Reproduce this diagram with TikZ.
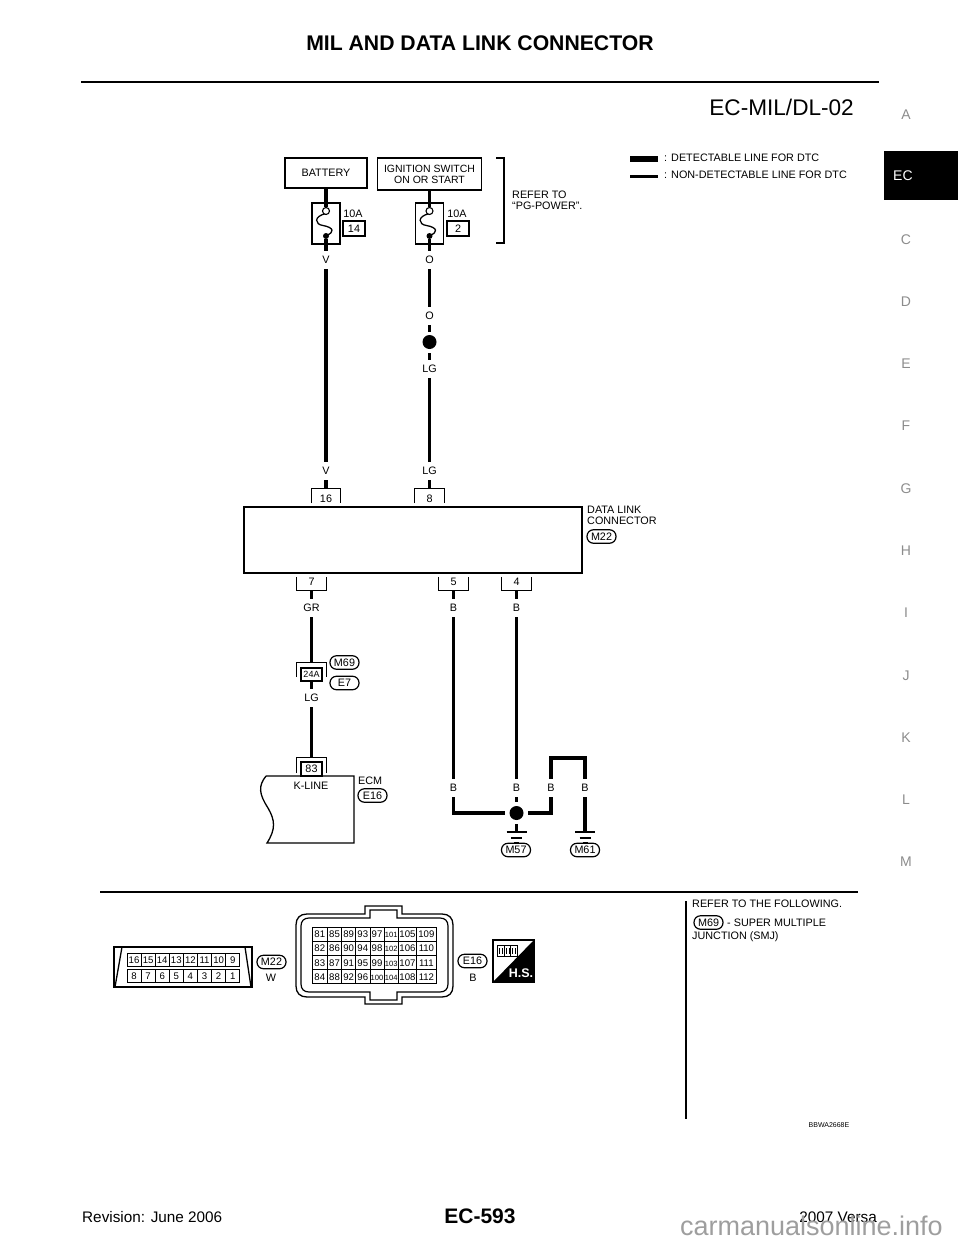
\documentclass[tikz,border=0pt]{standalone}
\usepackage{fontspec}
\setmainfont{Liberation Sans}
\usepackage{tikz}
\newcommand{\schem}{\fontsize{10.8}{10.8}\selectfont}
\newcommand{\cellf}{\fontsize{9.6}{9.6}\selectfont}
\definecolor{tabgray}{gray}{0.55}
\definecolor{markgray}{gray}{0.62}

\begin{document}
\begin{tikzpicture}[x=1pt, y=-1pt, line join=miter]
        \tikzstyle{every node}=[inner sep=0pt, font=\schem]
        \tikzstyle{wire}=[line width=3.2pt]
        \tikzstyle{thin line}=[line width=1.3pt]
        \tikzstyle{box}=[draw, line width=1.3pt, align=center]
        \tikzstyle{lbl}=[minimum height=18pt, minimum width=14pt, text height=7.6pt, text depth=0pt]
        \tikzstyle{pill}=[draw, line width=1.2pt, rounded corners=6.5pt, minimum width=29pt, minimum height=13.5pt, text height=7.6pt, text depth=0pt]
        \tikzstyle{pinup}=[minimum width=29pt, text height=13.5pt, text depth=0.5pt]
        \tikzstyle{pindown}=[minimum width=29pt, text height=8.3pt, text depth=4.7pt]
        \tikzstyle{cell}=[draw, line width=0.9pt, font=\cellf, text height=7pt, text depth=0pt]
        \tikzstyle{tab}=[text=tabgray, font=\fontsize{14}{14}\selectfont, text height=10pt, text depth=0pt]
        \tikzstyle{dot}=[circle, fill=black, minimum size=14pt]
        \useasboundingbox (0,0) rectangle (960,1242);

        % page frame
        \node (title) at (480,43) {\fontsize{21.2}{21.2}\selectfont\bfseries MIL AND DATA LINK CONNECTOR};
        \coordinate (ruleL) at (81,82);
        \coordinate (ruleR) at (879,82);
        \draw [line width=2.6pt] (ruleL) -- (ruleR);
        \node [anchor=east] (code) at (854,107) {\fontsize{22.6}{22.6}\selectfont EC-MIL/DL-02};
        \node [fill=black, minimum width=74pt, minimum height=49pt] (ectab) at (921,175.5) {};
        \node [anchor=west, text=white] (ectext) at (893,176) {\fontsize{14}{14}\selectfont EC};
        \foreach \l/\y in {A/114,C/239,D/301,E/363,F/425,G/488,H/550,I/612,J/675,K/737,L/799,M/861}
            \node [tab] (tab\l) at (906,\y) {\l};
        \node [anchor=west] (rev) at (82,1217) {\fontsize{15.3}{15.3}\selectfont Revision: June 2006};
        \node (page) at (480,1216) {\fontsize{21}{21}\selectfont\bfseries EC-593};
        \node [anchor=east] (model) at (877,1217) {\fontsize{15.3}{15.3}\selectfont 2007 Versa};
        \node [anchor=base east, text=markgray] (mark) at (943,1235) {\fontsize{27}{27}\selectfont carmanualsonline.info};
        \node (figno) at (829,1125) {\fontsize{7}{7}\selectfont BBWA2668E};

        % legend
        \node [fill=black, minimum width=28pt, minimum height=6pt] (keyA) at (644,159) {};
        \node [fill=black, minimum width=28pt, minimum height=3pt] (keyB) at (644,176) {};
        \node [anchor=west] (keyAtext) at (664,158) {: DETECTABLE LINE FOR DTC};
        \node [anchor=west] (keyBtext) at (664,175) {: NON-DETECTABLE LINE FOR DTC};
        \node [anchor=west, align=left, font=\fontsize{10.8}{11}\selectfont] (refer) at (512,200.5) {REFER TO\\“PG-POWER”.};
        \coordinate (brkA) at (496,158);
        \coordinate (brkB) at (504,158);
        \coordinate (brkC) at (504,243);
        \coordinate (brkD) at (496,243);
        \draw [thin line] (brkA) -- (brkB) -- (brkC) -- (brkD);

        % power side
        \node [box, minimum width=82pt, minimum height=30pt] (battery) at (326,173) {BATTERY};
        \node [box, minimum width=104pt, minimum height=32pt, font=\fontsize{10.5}{11}\selectfont] (ign) at (429.5,174) {IGNITION SWITCH\\ON OR START};
        \node [box, minimum width=28pt, minimum height=41pt] (fuseA) at (326,223.5) {};
        \node [box, minimum width=28pt, minimum height=41pt] (fuseB) at (429.5,223.5) {};
        \foreach \f in {fuseA,fuseB} {
            \begin{scope}[shift={(\f.center)}]
                \draw [thin line] (0,-10) .. controls (-13,-7) and (-11,1) .. (-3,2) .. controls (8,4) and (9,9) .. (0,12);
                \node [draw, circle, fill=white, line width=1.1pt, minimum size=7pt] (\f o) at (0,-12.5) {};
                \node [circle, fill=black, minimum size=6pt] (\f d) at (0,12.5) {};
            \end{scope}
        }
        \draw [wire] (battery) -- (fuseAo);
        \draw [wire] (ign) -- (fuseBo);
        \node (ampA) at (353,214) {10A};
        \node (ampB) at (457,214) {10A};
        \node [box, minimum width=22pt, minimum height=15pt] (slotA) at (354,228.5) {14};
        \node [box, minimum width=22pt, minimum height=15pt] (slotB) at (458,228.5) {2};
        \node [lbl] (lblV) at (326,260) {V};
        \node [lbl] (lblO) at (429.5,260) {O};
        \draw [wire] (fuseAd) -- (lblV);
        \draw [wire] (fuseBd) -- (lblO);
        \node [lbl] (lblOb) at (429.5,316) {O};
        \node [dot] (splice) at (429.5,342) {};
        \node [lbl] (lblLG) at (429.5,369) {LG};
        \draw [wire] (lblO) -- (lblOb);
        \draw [wire, shorten >=3pt] (lblOb) -- (splice);
        \draw [wire, shorten <=4pt] (splice) -- (lblLG);
        \node [lbl] (lblVb) at (326,471) {V};
        \node [lbl] (lblLGb) at (429.5,471) {LG};
        \draw [wire] (lblV) -- (lblVb);
        \draw [wire] (lblLG) -- (lblLGb);

        % data link connector
        \node [pinup] (pinA) at (326,496) {16};
        \node [pinup] (pinB) at (429.5,496) {8};
        \draw [wire] (lblVb) -- (pinA);
        \draw [wire] (lblLGb) -- (pinB);
        \draw [thin line] (pinA.south west) |- (pinA.north) -| (pinA.south east);
        \draw [thin line] (pinB.south west) |- (pinB.north) -| (pinB.south east);
        \node [box, minimum width=338pt, minimum height=66pt] (dlc) at (413,540) {};
        \node [anchor=north west, align=left, font=\fontsize{10.8}{10.5}\selectfont] (dlctext) at (587,506) {DATA LINK\\CONNECTOR};
        \node [pill] (pillM22) at (601.5,536.5) {M22};
        \node [pindown] (pinC) at (311.5,583.5) {7};
        \node [pindown] (pinD) at (453.5,583.5) {5};
        \node [pindown] (pinE) at (516.5,583.5) {4};
        \foreach \p in {pinC,pinD,pinE}
            \draw [thin line] (\p.north west) |- (\p.south) -| (\p.north east);
        \node [lbl] (lblGR) at (311.5,608) {GR};
        \node [lbl] (lblBa) at (453.5,608) {B};
        \node [lbl] (lblBb) at (516.5,608) {B};
        \draw [wire] (pinC) -- (lblGR);
        \draw [wire] (pinD) -- (lblBa);
        \draw [wire] (pinE) -- (lblBb);

        % junction and ecm
        \node [box, minimum width=21pt, minimum height=13pt, font=\fontsize{9}{9}\selectfont] (smj) at (311.5,674.5) {24A};
        \node [minimum width=29pt, minimum height=14pt] (smjtab) at (311.5,670) {};
        \draw [thin line] (smjtab.south west) |- (smjtab.north) -| (smjtab.south east);
        \node [pill] (pillM69) at (344.5,662.5) {M69};
        \node [pill] (pillE7) at (344.5,683) {E7};
        \node [lbl] (lblLGc) at (311.5,698) {LG};
        \draw [wire] (lblGR) -- (smjtab);
        \draw [wire] (smj) -- (lblLGc);
        \node [box, minimum width=21pt, minimum height=14pt] (pin83) at (311.5,769) {83};
        \node [minimum width=29pt, minimum height=15pt] (pin83tab) at (311.5,765.5) {};
        \draw [thin line] (pin83tab.south west) |- (pin83tab.north) -| (pin83tab.south east);
        \draw [wire] (lblLGc) -- (pin83tab);
        \coordinate (ecmA) at (266,776);
        \coordinate (ecmB) at (354,776);
        \coordinate (ecmC) at (354,843);
        \coordinate (ecmD) at (267,843);
        \draw [thin line] (ecmA) -- (ecmB) -- (ecmC) -- (ecmD) .. controls (276,829) and (275,820) .. (268,808) .. controls (259,794) and (258,786) .. (ecmA);
        \node (kline) at (311,786) {K-LINE};
        \node [anchor=west] (ecm) at (358,781) {ECM};
        \node [pill] (pillE16) at (372.5,795.5) {E16};

        % grounds
        \node [lbl] (lblBc) at (453.5,788) {B};
        \node [lbl] (lblBd) at (516.5,788) {B};
        \node [lbl] (lblBe) at (551,788) {B};
        \node [lbl] (lblBf) at (585,788) {B};
        \node [dot] (gnd) at (516.5,813) {};
        \draw [wire] (lblBa) -- (lblBc);
        \draw [wire] (lblBb) -- (lblBd);
        \draw [wire, shorten >=4pt] (lblBd) -- (gnd);
        \draw [wire, shorten >=4pt] (lblBc) |- (gnd);
        \draw [wire, shorten >=4pt] (lblBe) |- (gnd);
        \coordinate (loopA) at (551,758);
        \coordinate (loopB) at (585,758);
        \draw [wire] (lblBe) -- (loopA) -- (loopB) -- (lblBf);
        \coordinate (earthA) at (516.5,832);
        \coordinate (earthB) at (585,832);
        \draw [wire, shorten <=4pt] (gnd) -- (earthA);
        \draw [wire] (lblBf) -- (earthB);
        \foreach \e in {earthA,earthB} {
            \draw [thin line] ([xshift=-10pt]\e) -- ([xshift=10pt]\e);
            \draw [thin line] ([xshift=-5.5pt,yshift=-6pt]\e) -- ([xshift=5.5pt,yshift=-6pt]\e);
            \draw [thin line] ([xshift=-2.5pt,yshift=-11pt]\e) -- ([xshift=2.5pt,yshift=-11pt]\e);
        }
        \node [pill] (pillM57) at (516,850) {M57};
        \node [pill] (pillM61) at (585,850) {M61};

        % lower part
        \coordinate (lowL) at (100,892);
        \coordinate (lowR) at (858,892);
        \coordinate (noteT) at (686,901);
        \coordinate (noteB) at (686,1119);
        \draw [line width=1.5pt] (lowL) -- (lowR);
        \draw [line width=1.5pt] (noteT) -- (noteB);
        \node [anchor=west] (noteA) at (692,904) {REFER TO THE FOLLOWING.};
        \node [pill] (pillNote) at (708.5,922.5) {M69};
        \node [anchor=west] (noteC) at (727,922.5) {- SUPER MULTIPLE};
        \node [anchor=west] (noteD) at (692,937) {JUNCTION (SMJ)};

        % m22 connector view
        \node [draw, line width=1.3pt, minimum width=138pt, minimum height=40pt] (dlcbody) at (183,967) {};
        \coordinate (slantA) at (122,947);
        \coordinate (slantB) at (115,987);
        \coordinate (slantC) at (245,947);
        \coordinate (slantD) at (251,987);
        \draw [thin line] (slantA) -- (slantB);
        \draw [thin line] (slantC) -- (slantD);
        \foreach \n [count=\i from 0] in {16,15,14,13,12,11,10,9}
            \node [cell, minimum width=14.1pt, minimum height=13pt] (d\n) at (134+14.1*\i,959.5) {\n};
        \foreach \n [count=\i from 0] in {8,7,6,5,4,3,2,1}
            \node [cell, minimum width=14.1pt, minimum height=13pt] (d\n) at (134+14.1*\i,975.5) {\n};
        \node [pill] (pillM22b) at (271.5,962) {M22};
        \node (colW) at (271,978) {W};

        % e16 connector view
        \draw [line width=1.3pt] (296,925) .. controls (296,918) and (300,914) .. (307,914) -- (365,914) -- (365,906) -- (402,906) -- (402,914) -- (442,914) .. controls (449,914) and (453,918) .. (453,925) -- (453,986) .. controls (453,993) and (449,997) .. (442,997) -- (402,997) -- (402,1004) -- (365,1004) -- (365,997) -- (307,997) .. controls (300,997) and (296,993) .. (296,986) -- cycle;
        \draw [line width=1.2pt] (301,926) .. controls (301,921) and (304,918) .. (309,918) -- (370,918) -- (370,910) -- (397,910) -- (397,918) -- (440,918) .. controls (445,918) and (448,921) .. (448,926) -- (448,984) .. controls (448,989) and (445,992) .. (440,992) -- (397,992) -- (397,1000) -- (370,1000) -- (370,992) -- (309,992) .. controls (304,992) and (301,989) .. (301,984) -- cycle;
        \foreach \x/\w/\a/\b/\c/\d in {319.8/15/81/82/83/84,334.5/14.4/85/86/87/88,348.7/14/89/90/91/92,362.8/14.3/93/94/95/96} {
            \node [cell, minimum width=\w pt, minimum height=14.2pt] (e\a) at (\x,934.1) {\a};
            \node [cell, minimum width=\w pt, minimum height=14.2pt] (e\b) at (\x,948.3) {\b};
            \node [cell, minimum width=\w pt, minimum height=14.2pt] (e\c) at (\x,962.5) {\c};
            \node [cell, minimum width=\w pt, minimum height=14.2pt] (e\d) at (\x,976.7) {\d};
        }
        \tikzstyle{tiny cell}=[cell, minimum width=14.2pt, minimum height=14.2pt, font=\fontsize{7.6}{7.6}\selectfont]
        \node [cell, minimum width=14pt, minimum height=14.2pt] (e97) at (377,934.1) {97};
        \node [cell, minimum width=14pt, minimum height=14.2pt] (e98) at (377,948.3) {98};
        \node [cell, minimum width=14pt, minimum height=14.2pt] (e99) at (377,962.5) {99};
        \node [tiny cell, minimum width=14pt] (e100) at (377,976.7) {100};
        \node [tiny cell] (e101) at (391.2,934.1) {101};
        \node [tiny cell] (e102) at (391.2,948.3) {102};
        \node [tiny cell] (e103) at (391.2,962.5) {103};
        \node [tiny cell] (e104) at (391.2,976.7) {104};
        \foreach \x/\w/\a/\b/\c/\d in {407.5/18.4/105/106/107/108,426.4/19.3/109/110/111/112} {
            \node [cell, minimum width=\w pt, minimum height=14.2pt] (e\a) at (\x,934.1) {\a};
            \node [cell, minimum width=\w pt, minimum height=14.2pt] (e\b) at (\x,948.3) {\b};
            \node [cell, minimum width=\w pt, minimum height=14.2pt] (e\c) at (\x,962.5) {\c};
            \node [cell, minimum width=\w pt, minimum height=14.2pt] (e\d) at (\x,976.7) {\d};
        }
        \node [pill] (pillE16b) at (472.5,961) {E16};
        \node (colB) at (473,978) {B};

        % harness side symbol
        \node [draw, line width=1.2pt, minimum width=41pt, minimum height=42pt] (hsbox) at (513.5,961) {};
        \fill (hsbox.north east) -- (hsbox.south east) -- (hsbox.south west) -- cycle;
        \foreach \i in {0,7,13}
            \draw [line width=0.8pt, fill=white] (497+\i,945) rectangle ++(7,11) (499+\i,948) -- ++(0,6) (502+\i,948) -- ++(0,6);
        \node [text=white] (hstext) at (521,973) {\fontsize{12.5}{12.5}\selectfont\bfseries H.S.};
    \end{tikzpicture}
\end{document}
